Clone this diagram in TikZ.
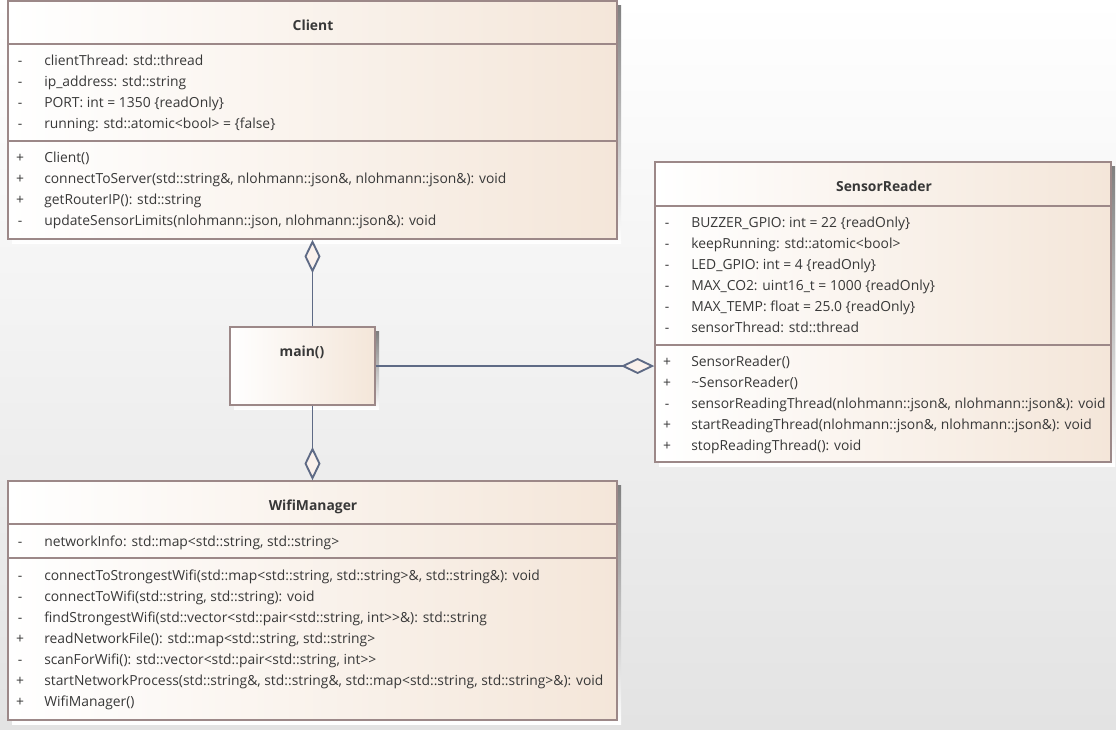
\documentclass[tikz,border=0pt]{standalone}
\usepackage{fontspec}
\setmainfont{Open Sans}[Ligatures=NoCommon]
\usetikzlibrary{fit,arrows.meta}

\definecolor{ink}{HTML}{383838}
\definecolor{frame}{HTML}{9C8888}
\definecolor{peach}{HTML}{F4E6D9}
\definecolor{link}{HTML}{5E6A85}
\definecolor{diafill}{HTML}{FAF1EC}
\definecolor{shade}{HTML}{C6C6C6}

\newcommand\umlfont{\fontsize{10.4pt}{12.5pt}\selectfont}

\tikzset{
  classbox/.style={draw=frame, line width=1.1pt, inner sep=0pt,
    left color=white, right color=peach},
  sep/.style={draw=frame, line width=1pt},
  member/.style={anchor=mid west, inner sep=0pt, yshift=-1.5pt, text=ink, font=\umlfont},
  vis/.style={anchor=mid, inner sep=0pt, yshift=-1.5pt, text=ink, font=\umlfont},
  title/.style={anchor=mid, inner sep=0pt, yshift=-1.5pt, text=ink, font=\umlfont\bfseries},
  aggr/.style={draw=link, line width=1.4pt,
    -{Diamond[length=25pt, width=12pt, fill=diafill, line width=1.4pt]}},
}

% name, sign x, text x, y, sign, text
\newcommand\umlrow[6]{%
  \node[vis] (#1-v) at (#2,#4) {#5};
  \node[member] (#1) at (#3,#4) {#6};}

\begin{document}
\begin{tikzpicture}[x=0.75pt, y=-0.75pt]
  % canvas
  \fill[top color=white, bottom color=black!11] (0,0) rectangle (1116,729);
  \useasboundingbox (0,0) rectangle (1116,729);

  % shadows
  \fill[shade] (12,5) rectangle (621,243);
  \fill[shade] (234,331) rectangle (379,409);
  \fill[shade] (659,166) rectangle (1115,466);
  \fill[shade] (12,485) rectangle (621,724);

  % class frames
  \node[classbox, fit={(8,1) (617,239)}] (client) {};
  \node[classbox, fit={(230,327) (375,405)}] (main) {};
  \node[classbox, fit={(655,162) (1111,462)}] (sensor) {};
  \node[classbox, fit={(8,481) (617,720)}] (wifi) {};

  % compartment separators
  \draw[sep] (client.west |- 0,44) -- (client.east |- 0,44);
  \draw[sep] (client.west |- 0,141) -- (client.east |- 0,141);
  \draw[sep] (sensor.west |- 0,206) -- (sensor.east |- 0,206);
  \draw[sep] (sensor.west |- 0,345) -- (sensor.east |- 0,345);
  \draw[sep] (wifi.west |- 0,524) -- (wifi.east |- 0,524);
  \draw[sep] (wifi.west |- 0,558) -- (wifi.east |- 0,558);

  % Client
  \node[title] (client-t) at (313,25) {Client};
  \umlrow{c1}{20}{44}{60}{-}{clientThread: std::thread}
  \umlrow{c2}{20}{44}{81}{-}{ip\_address: std::string}
  \umlrow{c3}{20}{44}{102}{-}{PORT: int = 1350 \{readOnly\}}
  \umlrow{c4}{20}{44}{123}{-}{running: std::atomic<bool> = \{false\}}
  \umlrow{c5}{20}{44}{157}{+}{Client()}
  \umlrow{c6}{20}{44}{178}{+}{connectToServer(std::string\&, nlohmann::json\&, nlohmann::json\&): void}
  \umlrow{c7}{20}{44}{199}{+}{getRouterIP(): std::string}
  \umlrow{c8}{20}{44}{220}{-}{updateSensorLimits(nlohmann::json, nlohmann::json\&): void}

  % main()
  \node[title] (main-t) at (302,351) {main()};

  % SensorReader
  \node[title] (sensor-t) at (884,186) {SensorReader};
  \umlrow{s1}{667}{691}{222}{-}{BUZZER\_GPIO: int = 22 \{readOnly\}}
  \umlrow{s2}{667}{691}{243}{-}{keepRunning: std::atomic<bool>}
  \umlrow{s3}{667}{691}{264}{-}{LED\_GPIO: int = 4 \{readOnly\}}
  \umlrow{s4}{667}{691}{285}{-}{MAX\_CO2: uint16\_t = 1000 \{readOnly\}}
  \umlrow{s5}{667}{691}{306}{-}{MAX\_TEMP: float = 25.0 \{readOnly\}}
  \umlrow{s6}{667}{691}{327}{-}{sensorThread: std::thread}
  \umlrow{s7}{667}{691}{361}{+}{SensorReader()}
  \umlrow{s8}{667}{691}{382}{+}{\textasciitilde SensorReader()}
  \umlrow{s9}{667}{691}{403}{-}{sensorReadingThread(nlohmann::json\&, nlohmann::json\&): void}
  \umlrow{s10}{667}{691}{424}{+}{startReadingThread(nlohmann::json\&, nlohmann::json\&): void}
  \umlrow{s11}{667}{691}{445}{+}{stopReadingThread(): void}

  % WifiManager
  \node[title] (wifi-t) at (313,505) {WifiManager};
  \umlrow{w1}{20}{44}{541}{-}{networkInfo: std::map<std::string, std::string>}
  \umlrow{w2}{20}{44}{575}{-}{connectToStrongestWifi(std::map<std::string, std::string>\&, std::string\&): void}
  \umlrow{w3}{20}{44}{596}{-}{connectToWifi(std::string, std::string): void}
  \umlrow{w4}{20}{44}{617}{-}{findStrongestWifi(std::vector<std::pair<std::string, int>{}>\&): std::string}
  \umlrow{w5}{20}{44}{638}{+}{readNetworkFile(): std::map<std::string, std::string>}
  \umlrow{w6}{20}{44}{659}{-}{scanForWifi(): std::vector<std::pair<std::string, int>{}>}
  \umlrow{w7}{20}{44}{680}{+}{startNetworkProcess(std::string\&, std::string\&, std::map<std::string, std::string>\&): void}
  \umlrow{w8}{20}{44}{701}{+}{WifiManager()}

  % aggregations: main() is part of each class
  \draw[aggr] (client.south |- main.north) -- (client.south);
  \draw[aggr] (wifi.north |- main.south) -- (wifi.north);
  \draw[aggr] (main.east) -- (main.east -| sensor.west);
\end{tikzpicture}
\end{document}
